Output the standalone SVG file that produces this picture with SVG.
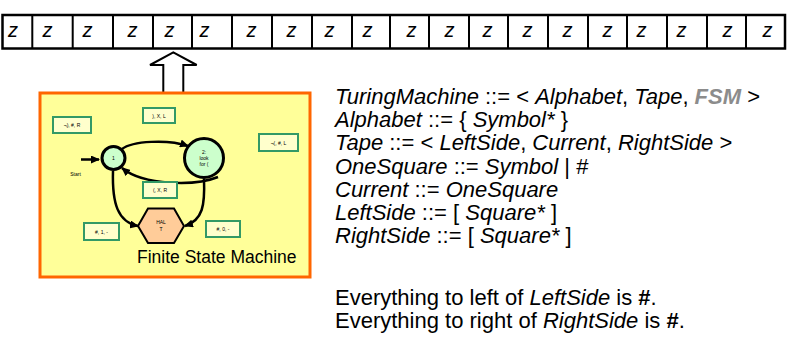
<svg xmlns="http://www.w3.org/2000/svg" width="787" height="349" viewBox="0 0 787 349">
<style>
.cell{fill:#fff;stroke:#000;stroke-width:2.5}
.z{font-family:"Liberation Sans",Arial,sans-serif;font-size:20px;font-style:italic;fill:#000}
.lbl{fill:#FFFFCC;stroke:#339966;stroke-width:2}
.lt{font-family:"Liberation Sans",Arial,sans-serif;font-size:5px;fill:#000;text-anchor:middle}
.edge{fill:none;stroke:#000;stroke-width:2.5}
.g{font-family:"Liberation Sans",Arial,sans-serif;font-size:22px;fill:#000}
.i{font-style:italic}
</style>
<defs>
<marker id="ah" markerUnits="userSpaceOnUse" markerWidth="9" markerHeight="8" refX="8" refY="4" orient="auto">
<path d="M0,0 L9,4 L0,8 Z" fill="#000"/>
</marker>
</defs>
<g id="tape">
<rect class="cell" x="2.5" y="15" width="782.5" height="33.5"/>
<path d="M32.3,15V48.5M72.7,15V48.5M113,15V48.5M153,15V48.5M192,15V48.5M232,15V48.5M272,15V48.5M312,15V48.5M352,15V48.5M390,15V48.5M429,15V48.5M469,15V48.5M508,15V48.5M548,15V48.5M588,15V48.5M627,15V48.5M667,15V48.5M707,15V48.5M746,15V48.5" stroke="#000" stroke-width="2" fill="none"/>
<text class="z" x="8" y="37">z</text>
<text class="z" x="42.5" y="37">z</text>
<text class="z" x="82.5" y="37">z</text>
<text class="z" x="127.5" y="37">z</text>
<text class="z" x="164.5" y="37">z</text>
<text class="z" x="199.5" y="37">z</text>
<text class="z" x="246.5" y="37">z</text>
<text class="z" x="286.5" y="37">z</text>
<text class="z" x="324.5" y="37">z</text>
<text class="z" x="362.5" y="37">z</text>
<text class="z" x="406.5" y="37">z</text>
<text class="z" x="444.5" y="37">z</text>
<text class="z" x="482.5" y="37">z</text>
<text class="z" x="522.5" y="37">z</text>
<text class="z" x="562.5" y="37">z</text>
<text class="z" x="602.5" y="37">z</text>
<text class="z" x="636.5" y="37">z</text>
<text class="z" x="676.5" y="37">z</text>
<text class="z" x="722.5" y="37">z</text>
<text class="z" x="762.5" y="37">z</text>
</g>
<g id="head-arrow">
<path d="M163.3,93 V65 H150 L173.3,52.3 L196.7,65 H183.3 V93" fill="#fff" stroke="#000" stroke-width="2"/>
</g>
<g id="fsm">
<rect x="40" y="93" width="270" height="184" fill="#FFFF99" stroke="#FF6600" stroke-width="3"/>
<text x="137" y="263" font-family="'Liberation Sans',Arial,sans-serif" font-size="17.5" fill="#000">Finite State Machine</text>
</g>
<g id="connectors">
<path class="edge" d="M122,149 C132,141 168,139 188,146" marker-end="url(#ah)"/>
<path class="edge" d="M218,177 C196,186 144,186 122,168" marker-end="url(#ah)"/>
<path class="edge" d="M113,171 C112,204 118,222 138,226" marker-end="url(#ah)"/>
<path class="edge" d="M204,179 C205,205 203,220 185,226" marker-end="url(#ah)"/>
<path class="edge" d="M81,159.5 H99" marker-end="url(#ah)"/>
</g>
<g id="start">
<text class="lt" x="75.5" y="176">Start</text>
</g>
<g id="state1">
<circle cx="113.5" cy="158" r="11.5" fill="#CCFFCC" stroke="#000" stroke-width="3"/>
<text class="lt" x="113.5" y="160">1</text>
</g>
<g id="state2">
<circle cx="204" cy="158" r="19.5" fill="#CCFFCC" stroke="#000" stroke-width="3"/>
<text class="lt" x="204" y="154">2:</text>
<text class="lt" x="204" y="160">look</text>
<text class="lt" x="204" y="166">for (</text>
</g>
<g id="halt">
<polygon points="138,226 148,208.5 174,208.5 184,226 174,243 148,243" fill="#FFCC99" stroke="#000" stroke-width="2"/>
<text class="lt" x="161" y="224">HAL</text>
<text class="lt" x="161" y="231">T</text>
</g>
<g id="label-not-close">
<rect class="lbl" x="53" y="117" width="38" height="16"/>
<text class="lt" x="72" y="127">¬), #, R</text>
</g>
<g id="label-close">
<rect class="lbl" x="143" y="108" width="32" height="15"/>
<text class="lt" x="159" y="117.5">), X, L</text>
</g>
<g id="label-not-open">
<rect class="lbl" x="259" y="134" width="39" height="17"/>
<text class="lt" x="278.5" y="144.5">¬(, #, L</text>
</g>
<g id="label-open">
<rect class="lbl" x="143" y="182" width="34" height="16"/>
<text class="lt" x="160" y="192">(, X, R</text>
</g>
<g id="label-halt1">
<rect class="lbl" x="84" y="223" width="35" height="17"/>
<text class="lt" x="101.5" y="233.5">#, 1, -</text>
</g>
<g id="label-halt0">
<rect class="lbl" x="206" y="221" width="34" height="16"/>
<text class="lt" x="223" y="231">#, 0, -</text>
</g>
<g id="grammar">
<text class="g" x="335" y="104"><tspan class="i">TuringMachine</tspan> ::= &lt; <tspan class="i">Alphabet</tspan>, <tspan class="i">Tape</tspan>, <tspan class="i" font-weight="bold" fill="#8C8C8C">FSM</tspan> &gt;</text>
<text class="g" x="335" y="127.2"><tspan class="i">Alphabet</tspan> ::= { <tspan class="i">Symbol*</tspan> }</text>
<text class="g" x="335" y="150.4"><tspan class="i">Tape</tspan> ::= &lt; <tspan class="i">LeftSide</tspan>, <tspan class="i">Current</tspan>, <tspan class="i">RightSide</tspan> &gt;</text>
<text class="g" x="335" y="173.6"><tspan class="i">OneSquare</tspan> ::= <tspan class="i">Symbol</tspan> | #</text>
<text class="g" x="335" y="196.8"><tspan class="i">Current</tspan> ::= <tspan class="i">OneSquare</tspan></text>
<text class="g" x="335" y="220"><tspan class="i">LeftSide</tspan> ::= [ <tspan class="i">Square*</tspan> ]</text>
<text class="g" x="335" y="243"><tspan class="i">RightSide</tspan> ::= [ <tspan class="i">Square*</tspan> ]</text>
<text class="g" x="335" y="305">Everything to left of <tspan class="i">LeftSide</tspan> is <tspan font-weight="bold">#</tspan>.</text>
<text class="g" x="335" y="327.5">Everything to right of <tspan class="i">RightSide</tspan> is <tspan font-weight="bold">#</tspan>.</text>
</g>
</svg>
